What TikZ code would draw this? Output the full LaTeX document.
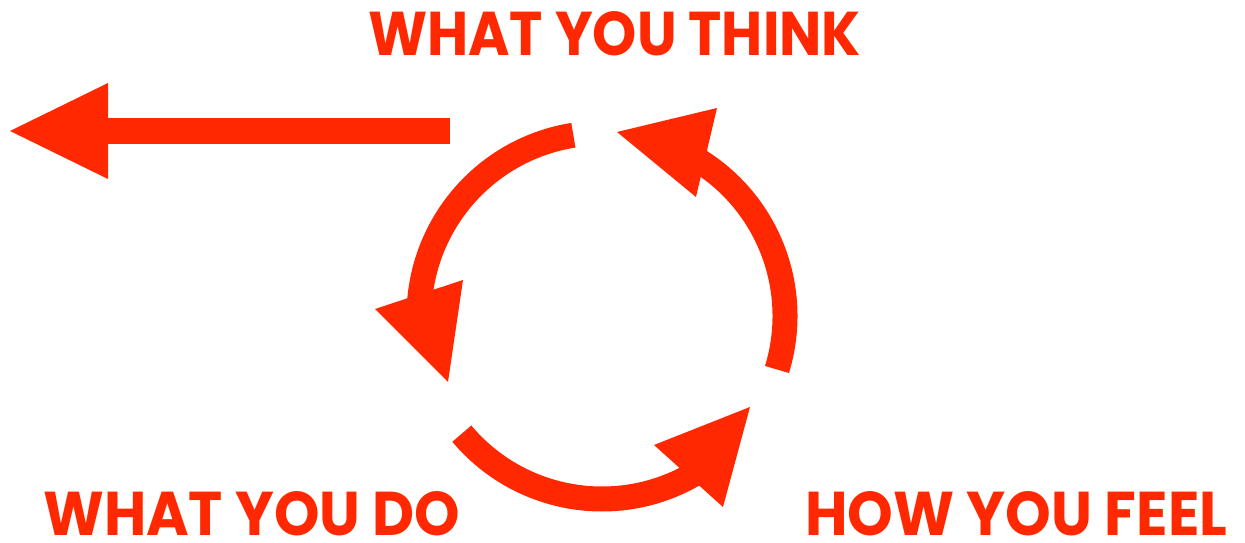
\documentclass[tikz,border=0pt]{standalone}
\usepackage{fontspec}
\newfontfamily\cyclefont{Poppins}
\usepackage{tikz}
\usetikzlibrary{positioning}
\definecolor{flame}{RGB}{255,40,0}
\newcommand{\fitlabel}[2]{\resizebox{#1pt}{44pt}{#2}}

\begin{document}
\begin{tikzpicture}[
  x=1pt, y=1pt,
  loopline/.style={draw=flame, line width=25pt},
  headtip/.style={fill=flame},
  cyclelabel/.style={text=flame, inner sep=0pt, font=\cyclefont\bfseries\fontsize{63}{63}\selectfont}
]
\useasboundingbox (0,0) rectangle (1245,543);
\coordinate (hub) at (602,227);
% labels
\node[cyclelabel, anchor=base west] (think) at (368,487) {\fitlabel{493}{WHAT YOU THINK}};
\node[cyclelabel, anchor=base west] (do) at (43,7) {\fitlabel{417}{WHAT YOU DO}};
\node[cyclelabel, anchor=base west] (feel) at (805,7) {\fitlabel{422}{HOW YOU FEEL}};
% arrow to the left
\draw[loopline, line width=26pt] (450,412) -- (100,412);
\fill[headtip] (10,412) -- (108,460) -- (108,364) -- cycle;
% think -> do
\draw[loopline] ([shift={(99:183)}]hub) arc (99:176:183);
\fill[headtip] (375,234) -- (463,263) -- (448,161) -- cycle;
% do -> feel
\draw[loopline] ([shift={(220:183)}]hub) arc (220:300:183);
\fill[headtip] (654,98) -- (723,36) -- (750,136) -- cycle;
% feel -> think
\draw[loopline] ([shift={(-17:183)}]hub) arc (-17:60:183);
\fill[headtip] (717,435) -- (696,346) -- (617,411) -- cycle;
\end{tikzpicture}
\end{document}
